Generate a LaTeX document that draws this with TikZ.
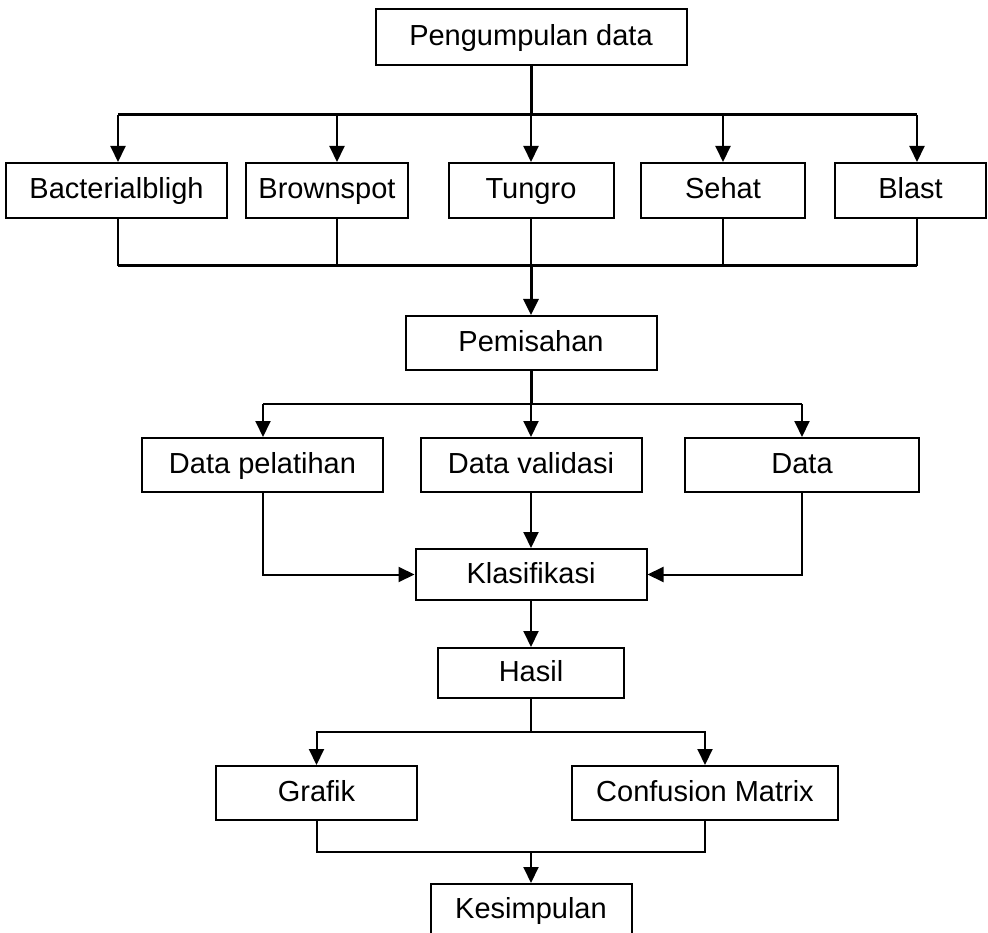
\documentclass[tikz,border=0pt]{standalone}
\usepackage{fontspec}
\setmainfont{Liberation Sans}
\usetikzlibrary{arrows.meta}
\begin{document}
\begin{tikzpicture}[x=1pt,y=-1pt,
  box/.style={draw,line width=2pt,inner sep=0pt,text height=22pt,text depth=5pt,font=\fontsize{29}{34}\selectfont},
  ln/.style={line width=2pt},
  tk/.style={line width=3pt},
  tip/.style={-{Triangle[length=16pt,width=15pt]}},
  arr/.style={ln,tip}]
\useasboundingbox (0,0) rectangle (988,933);
% nodes
\node[box,minimum width=311pt,minimum height=56pt] (top) at (531,37) {Pengumpulan data};
\node[box,minimum width=221pt,minimum height=55pt] (bac) at (116.5,190.5) {Bacterialbligh};
\node[box,minimum width=162pt,minimum height=55pt] (bro) at (327,190.5) {Brownspot};
\node[box,minimum width=165pt,minimum height=55pt] (tun) at (531,190.5) {Tungro};
\node[box,minimum width=164pt,minimum height=55pt] (seh) at (723,190.5) {Sehat};
\node[box,minimum width=151pt,minimum height=55pt] (bla) at (910.5,190.5) {Blast};
\node[box,minimum width=251pt,minimum height=54pt] (pem) at (531,343) {Pemisahan};
\node[box,minimum width=241pt,minimum height=54pt] (dpl) at (262.5,465) {Data pelatihan};
\node[box,minimum width=221pt,minimum height=54pt] (dvl) at (531,465) {Data validasi};
\node[box,minimum width=234pt,minimum height=54pt] (dat) at (802,465) {Data};
\node[box,minimum width=231pt,minimum height=51pt] (kla) at (531,574.5) {Klasifikasi};
\node[box,minimum width=186pt,minimum height=50pt] (has) at (531,673) {Hasil};
\node[box,minimum width=201pt,minimum height=54pt] (gra) at (316.5,793) {Grafik};
\node[box,minimum width=266pt,minimum height=54pt] (cfm) at (705,793) {Confusion Matrix};
\node[box,minimum width=201pt,minimum height=51pt] (kes) at (531,909.5) {Kesimpulan};
% junction points
\coordinate (dA) at (118,115);
\coordinate (dB) at (337,115);
\coordinate (dC) at (531,115);
\coordinate (dD) at (723,115);
\coordinate (dE) at (917,115);
\coordinate (eA) at (118,266);
\coordinate (eB) at (337,266);
\coordinate (eC) at (531,266);
\coordinate (eD) at (723,266);
\coordinate (eE) at (917,266);
\coordinate (p1) at (531,404);
\coordinate (pA) at (263,404);
\coordinate (pC) at (802,404);
\coordinate (h1) at (531,732);
\coordinate (m1) at (531,852);
% top fan-out
\draw[tk] (top.south) -- (dC);
\draw[tk] (dA) -- (dE);
\draw[arr] (dA) -- (dA |- bac.north);
\draw[arr] (dB) -- (dB |- bro.north);
\draw[arr] (dC) -- (dC |- tun.north);
\draw[arr] (dD) -- (dD |- seh.north);
\draw[arr] (dE) -- (dE |- bla.north);
% fan-in
\draw[ln] (eA |- bac.south) -- (eA);
\draw[ln] (eB |- bro.south) -- (eB);
\draw[ln] (eC |- tun.south) -- (eC);
\draw[ln] (eD |- seh.south) -- (eD);
\draw[ln] (eE |- bla.south) -- (eE);
\draw[tk] (eA) -- (eE);
\draw[tk,tip] (eC) -- (pem.north);
% split
\draw[tk] (pem.south) -- (p1);
\draw[ln] (pA) -- (pC);
\draw[arr] (pA) -- (pA |- dpl.north);
\draw[arr] (p1) -- (dvl.north);
\draw[arr] (pC) -- (pC |- dat.north);
% to classification
\draw[arr] (dpl.south) |- (kla.west);
\draw[arr] (dvl.south) -- (kla.north);
\draw[arr] (dat.south) |- (kla.east);
\draw[arr] (kla.south) -- (has.north);
% results
\draw[ln] (has.south) -- (h1);
\draw[arr] (h1) -| (gra.north);
\draw[arr] (h1) -| (cfm.north);
\draw[ln] (gra.south) |- (m1);
\draw[ln] (cfm.south) |- (m1);
\draw[arr] (m1) -- (kes.north);
\end{tikzpicture}
\end{document}
